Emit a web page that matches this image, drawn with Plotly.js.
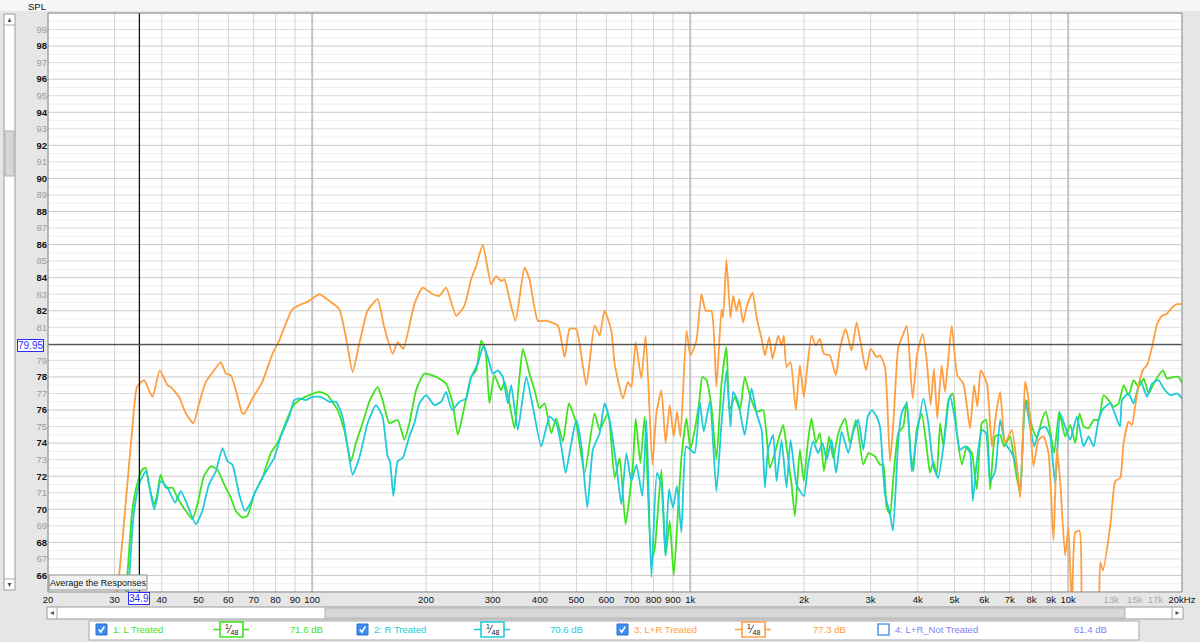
<!DOCTYPE html>
<html><head><meta charset="utf-8">
<script src="https://cdn.plot.ly/plotly-3.0.1.min.js"></script>
<style>html,body{margin:0;padding:0;background:#e6e6e6;}#chart{width:1200px;height:642px;}</style>
</head><body><div id="chart"></div>
<script>
// ---------------- DATA ----------------
const FREQ_L = [31.5,32.4,33.4,34.4,35.5,36.3,37,38.2,38.9,39.7,41,42.7,44,46.3,48.2,49.7,51.7,53.9,56.1,58.5,60.9,62.8,65.3,67.4,70.2,73.8,77.7,80.9,84.3,88.7,92.4,98.2,104.4,109.8,113,116.7,121.5,126.6,130.5,135.9,141.6,148.9,153.5,160,168.3,175.3,180.7,188.3,198,212.7,226,235.4,242.7,252.7,263.3,271.5,279.9,287.3,294.4,303.4,316.1,322.6,332.6,342.8,353.4,360.8,375.7,387.4,399.3,411.7,429,442.2,460.5,477.5,499.4,525.5,558.5,576,605.8,631,650.6,674.6,705.5,717.2,738,757.7,789.3,805.4,838.9,861,882.5,904.5,928.4,947.8,977.4,1001,1027.8,1055.1,1077,1104,1138,1173,1210,1247,1272,1312,1353,1394,1438,1498,1559,1624,1674,1726,1762,1798,1854,1892,1950,1998,2051,2094,2150,2203,2258,2331,2389,2464,2567,2645,2744,2870,2959,3082,3177,3242,3309,3377,3446,3553,3662,3740,3829,3892,3973,4097,4223,4309,4397,4489,4582,4675,4819,4951,5073,5230,5392,5559,5731,5908,6065,6216,6409,6606,6767,7021,7238,7462,7647,7776,8014,8262,8518,8729,8961,9183,9467,9813,10123,10436,10715,10980,11320,11670,12031,12403,12787,13183,13592,14012,14445,14895,15355,15833,16325,16830,17349,17823,18262,19017,19605,20010];
const SPL_L = [63,65.9,69.9,71.5,72.4,72.5,71.5,70.3,70.9,72.1,71.3,71.3,70.7,69.9,69.4,70.3,72,72.6,72.4,71.5,70.7,69.9,69.5,69.6,70.9,71.9,73.4,74,75,76.2,76.6,76.9,77.1,76.9,76.5,76,74.8,72.9,74,75.2,76.5,77.4,76.6,75.2,75.4,74.2,75.2,77.2,78.2,78,77.6,76.4,74.5,76.2,78,78.4,80.2,79.6,76.4,78.1,77.2,77.7,76.4,74.9,78,79.7,78.2,77.2,76.1,76.4,74.6,75.5,74.1,76.4,75.2,72.2,75.8,74.8,75.8,71.9,73.1,69.1,72.7,75.5,72.8,75.6,66.9,67.6,72.4,67.2,69.3,66,69.9,73.1,75.5,73.6,74.8,76.4,78,77.8,76.2,73,77.6,79.8,76,76.8,76,78,76.9,75.9,76,72.5,73.4,74.5,75.1,73.8,71.5,69.6,73.6,71.7,74.2,75.5,74,74.6,72.3,74.4,73.1,74.6,75.5,74,75.4,72.7,73.4,73.2,72.7,72.7,70.1,69.7,71.9,74.6,75,76.5,73.4,72.3,74.8,75.8,73.7,72.2,72.9,72.1,75.2,73.8,76.6,77,74.6,72.7,73.8,73.4,71.2,75.2,75.4,71.2,74.4,74.5,73.8,74.4,72.5,70.9,75.8,76.6,75,74.3,75.4,75.9,74.7,73.4,75.9,74.4,75.1,74,75.8,75,74.9,75.4,75.4,76.9,76.6,76.2,76.4,77.5,76.9,77.8,77.4,77.9,77,77.6,78.1,78.4,77.9,78,78,77.6];

const FREQ_R = [32,32.8,33.7,34.8,36.3,37.4,38.2,38.9,39.7,41.4,43.4,44.9,46.3,49.2,51.2,53.3,55.6,57.9,59.7,61.5,64.1,66.4,68.8,70.2,73.8,79.3,82.6,86.9,89.6,92.4,96.2,100.2,105.4,110.9,115.6,120.3,124,127.9,133.2,140.1,147.5,153.5,158.3,160.6,163.9,168.3,173.5,180.7,186.3,192.1,200.1,210.5,219.3,226,234.4,245.2,255.4,263.3,274.1,283.8,291.4,300.4,309.7,319.3,329.2,336.1,349.9,368.2,383.3,403.5,424.6,442.2,456,468.1,484.6,499.4,515,534.2,552.7,576,593.6,612,637.5,657.2,677.6,698.7,720.4,747.2,765.6,789.3,816.6,838.9,859.6,878.8,900.6,922.5,947.8,974.6,1000,1027.8,1060,1086,1127,1173,1210,1247,1278,1299,1338,1394,1453,1498,1545,1576,1607,1657,1692,1744,1798,1843,1911,1998,2051,2114,2180,2240,2296,2366,2432,2514,2619,2700,2784,2870,2949,3022,3113,3177,3275,3377,3439,3553,3625,3740,3854,3973,4138,4266,4397,4529,4675,4869,5019,5175,5336,5501,5592,5731,5908,6065,6216,6409,6606,6810,7093,7312,7462,7691,7933,8128,8395,8692,8961,9240,9521,9813,10123,10544,10980,11320,11670,12031,12403,12920,13706,13874,14445,14895,15513,16165,16665,17349,17888,18632,19408,20010];
const SPL_R = [63,65.9,69.7,71.5,72.3,70.9,70,70.7,71.7,71.3,70.4,71.1,70.5,69.1,69.9,71.5,72.3,73.7,72.9,72.7,70.9,69.9,70.4,70.9,71.9,73.1,74.4,75.6,76.6,76.7,76.6,76.8,76.8,76.5,76.5,75.6,73.8,72.1,73.1,75.2,76.3,75.6,73.2,72.9,70.8,72.9,73.1,74.4,75.2,76.4,76.9,76.3,76.5,77.1,76,76.5,76.7,78,78.8,79.9,79.2,78.2,78.4,78,76.4,77.5,74.8,78,76.2,73.8,75.6,75.2,73.8,72.2,74,75.4,73.9,70.1,73.6,74.6,76.4,75.4,72.7,70.3,73.4,71.7,72.7,70.8,75.4,65.9,72.2,71.5,67.2,71.2,70.1,71.4,68.6,73.8,73.6,73.4,76.5,74.7,76.5,71.1,75.2,78.4,75,77.1,76.5,74.5,77.3,75.8,74.8,71.3,73.6,74.5,71.7,74.2,71.3,74.2,71.5,70.8,72.7,74.1,73.4,74,73,74.2,72.2,74.7,73.4,74.7,75.4,73.6,75.6,76,75.6,75,70.9,69.7,68.7,74.2,75.8,76.4,72.3,74.4,76.7,75.2,72.6,71.9,73.8,76.9,75.4,73.6,73.8,73.4,70.5,72.9,74.8,74.6,71.7,72.3,75.4,74,73.4,72.5,70.9,76.6,75,73.8,74.8,75,74.4,71.5,75.8,75,74.2,75.6,73.8,74.4,73.8,75.4,76.1,76.4,75,76.6,77,76.4,77.8,76.8,77.6,77.8,77.3,76.9,77,76.7];

const FREQ_LR = [29,30.8,33.4,34.4,35.9,37.8,39.5,41.4,42.2,44.4,46.3,48.5,50.2,52.3,55,57.3,59.1,60.9,62.8,65.3,66.2,69.5,73.8,78.5,81.8,88.7,98.2,104.4,110.9,117.9,122.8,127.9,133.2,140.1,148.9,155.1,163.2,168.3,174.2,186.3,196,208.3,217,226,240.3,252.7,263.3,271.5,282.7,297.4,306.6,316.1,322.6,332.6,345,364.5,375.7,395.3,415.9,446.6,465.2,479.6,499.4,530.9,558.5,576,593.6,618.4,631,663.7,684.2,698.7,717.2,742.4,762.2,794.1,813.7,838.9,861,882.5,904.5,922.5,942.3,977.4,1001,1038.5,1070.7,1099,1138,1173,1210,1222,1247,1278,1299,1326,1348,1380,1409,1462,1498,1545,1576,1618,1651,1709,1744,1769,1798,1843,1903,1950,1998,2038,2094,2150,2203,2258,2341,2428,2489,2577,2673,2755,2823,2917,3002,3113,3177,3275,3377,3446,3553,3649,3740,3876,3987,4121,4223,4325,4413,4503,4626,4720,4918,5088,5279,5501,5637,5751,5871,6094,6282,6445,6606,6810,7093,7312,7462,7614,7691,7848,8091,8342,8601,8869,9143,9331,9521,9813,10012,10229,10436,10715,10872,11400,12031,12156,12357,12920,13320,13731,14012,14445,14748,15050,15452,15833,16165,16665,17179,17711,18182,18826,19408,20010];
const SPL_LR = [62,65.9,74.8,77.4,77.8,76.8,78.4,77.5,77.4,76.8,75.8,75.2,76.4,77.7,78.4,78.9,78.2,78.1,77.2,75.8,75.8,76.7,77.7,79.4,80.2,82.1,82.6,83,82.6,82.1,80.4,78.3,80,82,82.7,81,79.4,80.1,79.7,82.4,83.4,83,82.9,83.4,81.7,82.3,83.9,84.7,86,83.6,84.1,83.8,83.9,82.7,81.4,84.6,83.9,81.4,81.4,81.1,79.2,80.9,80.9,77.5,81.1,80.5,82,80.8,78.8,76.7,77.7,77.4,80.1,77.9,80.5,72.7,75.8,77.2,74,76.3,74.4,75.9,74.4,80.8,79.3,80.2,83,82,82,77.4,82.1,81.6,85.1,81.6,82.9,82,82.7,81.3,82.2,83.1,81.6,80.3,79.3,80.4,79.1,80.5,79.9,80.5,78.6,78.9,76,78.7,76.8,78.5,80.5,79.9,80.3,79.4,79.3,78.1,79.7,80.9,79.6,81.3,80.1,78.4,79.7,79.2,79.3,78.6,72.9,75.2,79.8,80.5,81.1,76.7,79.4,80.6,79,76.3,78.5,75.5,78.7,77.1,81.1,78.1,77.6,74.9,77.5,76.2,78.4,77.6,73.8,75.8,77.1,74,74.8,72.7,70.7,75.4,77.7,76.7,72.6,74.2,74.4,73.4,68.1,73.7,71.7,67.2,68.9,64,68.6,68.7,63,58,63,66.8,66.3,69,71.7,71.9,74,75.3,75.1,76.3,77.8,78.5,78.7,79.8,81.2,81.7,81.8,82.2,82.4,82.4];

const SERIES_NAMES = ['1: L Treated','2: R Treated','3: L+R Treated','4: L+R_Not Treated'];
const SERIES_LEVELS = ['71.6 dB','70.6 dB','77.3 dB','61.4 dB'];
const X_TICK_VALS = [20,30,40,50,60,70,80,90,100,200,300,400,500,600,700,800,900,1000,2000,3000,4000,5000,6000,7000,8000,9000,10000,13000,15000,17000,20000];
const X_TICK_TEXT = ['20','30','40','50','60','70','80','90','100','200','300','400','500','600','700','800','900','1k','2k','3k','4k','5k','6k','7k','8k','9k','10k','13k','15k','17k','20kHz'];
const X_TICK_GREY = ['13k','15k','17k'];
const Y_TICK_VALS = [66,67,68,69,70,71,72,73,74,75,76,77,78,79,81,82,83,84,85,86,87,88,89,90,91,92,93,94,95,96,97,98,99];
const CURSOR_FREQ = 34.9;
const CURSOR_SPL = 79.95;

// ---------------- LAYOUT HELPERS ----------------
const L = 48, R = 1182, T = 13, B = 592;
const px = x => (x - L) / (R - L);
const py = y => (B - y) / (B - T);
const FMIN = 20, FMAX = 20000;
const fx = f => (Math.log10(f) - Math.log10(FMIN)) / (Math.log10(FMAX) - Math.log10(FMIN));
const pathPx = pts => 'M ' + pts.map(p => px(p[0]) + ',' + py(p[1])).join(' L ') + ' Z';
const linePx = pts => 'M ' + pts.map(p => px(p[0]) + ',' + py(p[1])).join(' L ');

const GREEN = '#3fe31c', CYAN = '#1fcbd9', ORANGE = '#ff9e3e', PURPLE = '#7f7ff5';
const FONT = 'Liberation Sans, Arial, sans-serif';

const shapes = [];
const annotations = [];

// horizontal grid (0.5 dB steps)
for (let v = 65; v <= 100.001; v += 0.5) {
  const isInt = Math.abs(v - Math.round(v)) < 1e-6;
  let col = '#efefef';
  if (isInt) col = (Math.round(v) % 2 === 0) ? '#c9c9c9' : '#dcdcdc';
  shapes.push({type:'line', xref:'paper', yref:'y', x0:0, x1:1, y0:v, y1:v, layer:'below',
    line:{color:col, width:1}});
}
// vertical grid
for (let dec = 10; dec <= 10000; dec *= 10) {
  for (let m = 1; m <= 9; m++) {
    const f = m * dec;
    if (f < FMIN || f > FMAX) continue;
    let col = '#d4d4d4', w = 1;
    if (m === 1 && dec >= 100) { col = '#c4c4c4'; w = 2; }
    else if (f > 10000) col = '#e6e6e6';
    shapes.push({type:'line', xref:'paper', yref:'paper', x0:fx(f), x1:fx(f), y0:0, y1:1, layer:'below',
      line:{color:col, width:w}});
  }
}
// cursor
shapes.push({type:'line', xref:'paper', yref:'paper', x0:fx(CURSOR_FREQ), x1:fx(CURSOR_FREQ), y0:0, y1:1,
  line:{color:'#111', width:1.3}});
shapes.push({type:'line', xref:'paper', yref:'y', x0:0, x1:1, y0:CURSOR_SPL, y1:CURSOR_SPL,
  line:{color:'#555', width:1.3}});
// plot border
shapes.push({type:'rect', xref:'paper', yref:'paper', x0:0, x1:1, y0:0, y1:1, line:{color:'#8a8a8a', width:1}});
// top strip
shapes.push({type:'rect', xref:'paper', yref:'paper', x0:px(0), x1:px(1200), y0:py(11), y1:py(0), layer:'below',
  fillcolor:'#f6f6f6', line:{width:0}});
// button
shapes.push({type:'rect', xref:'paper', yref:'paper', x0:px(49), x1:px(147), y0:py(590), y1:py(575),
  fillcolor:'#f1f1f1', line:{color:'#8d8d8d', width:1}});
annotations.push({xref:'paper', yref:'paper', x:px(98), y:py(582.5), text:'Average the Responses', showarrow:false,
  xanchor:'center', yanchor:'middle', font:{family:FONT, size:9, color:'#111'}});
// left scrollbar
shapes.push({type:'rect', xref:'paper', yref:'paper', x0:px(4), x1:px(15), y0:py(590), y1:py(14), layer:'below',
  fillcolor:'#ffffff', line:{color:'#9a9a9a', width:1}});
shapes.push({type:'rect', xref:'paper', yref:'paper', x0:px(5), x1:px(14), y0:py(176), y1:py(131), layer:'below',
  fillcolor:'#d6d6d6', line:{color:'#b0b0b0', width:1}});
shapes.push({type:'line', xref:'paper', yref:'paper', x0:px(4), x1:px(15), y0:py(25), y1:py(25), layer:'below', line:{color:'#aaa', width:1}});
shapes.push({type:'line', xref:'paper', yref:'paper', x0:px(4), x1:px(15), y0:py(579), y1:py(579), layer:'below', line:{color:'#aaa', width:1}});
shapes.push({type:'path', xref:'paper', yref:'paper', path:pathPx([[7.5,22],[11.5,22],[9.5,18]]), fillcolor:'#555', line:{width:0}});
shapes.push({type:'path', xref:'paper', yref:'paper', path:pathPx([[7.5,583],[11.5,583],[9.5,587]]), fillcolor:'#555', line:{width:0}});
// bottom scrollbar
shapes.push({type:'rect', xref:'paper', yref:'paper', x0:px(47), x1:px(1183), y0:py(619), y1:py(607), layer:'below',
  fillcolor:'#ffffff', line:{color:'#9a9a9a', width:1}});
shapes.push({type:'rect', xref:'paper', yref:'paper', x0:px(325), x1:px(1125), y0:py(618), y1:py(608), layer:'below',
  fillcolor:'#d8d8d8', line:{color:'#b3b3b3', width:1}});
shapes.push({type:'line', xref:'paper', yref:'paper', x0:px(57), x1:px(57), y0:py(619), y1:py(607), layer:'below', line:{color:'#aaa', width:1}});
shapes.push({type:'line', xref:'paper', yref:'paper', x0:px(1172), x1:px(1172), y0:py(619), y1:py(607), layer:'below', line:{color:'#aaa', width:1}});
shapes.push({type:'path', xref:'paper', yref:'paper', path:pathPx([[54,611],[54,615],[50,613]]), fillcolor:'#555', line:{width:0}});
shapes.push({type:'path', xref:'paper', yref:'paper', path:pathPx([[1175.5,611],[1175.5,615],[1179.5,613]]), fillcolor:'#555', line:{width:0}});
// legend panel
shapes.push({type:'rect', xref:'paper', yref:'paper', x0:px(89), x1:px(1139), y0:py(640), y1:py(621), layer:'below',
  fillcolor:'#ffffff', line:{color:'#a8a8a8', width:1}});

const LEG_COLORS = [GREEN, CYAN, ORANGE, PURPLE];
const LEG_CHECK_X = [96, 357, 617, 878];
const LEG_SAMPLE_X = [213, 474, 735, null];
const LEG_LEVEL_X = [288, 548, 811, 1072];
const LEG_Y = 629.5;
for (let i = 0; i < 4; i++) {
  const cx = LEG_CHECK_X[i];
  if (i < 3) {
    shapes.push({type:'rect', xref:'paper', yref:'paper', x0:px(cx), x1:px(cx+11), y0:py(LEG_Y+5.5), y1:py(LEG_Y-5.5),
      fillcolor:'#3d8cf2', line:{color:'#2c6fd0', width:1}});
    shapes.push({type:'path', xref:'paper', yref:'paper',
      path:linePx([[cx+2.8, LEG_Y], [cx+4.8, LEG_Y+2.6], [cx+8.4, LEG_Y-3]]),
      line:{color:'#ffffff', width:1.6}});
  } else {
    shapes.push({type:'rect', xref:'paper', yref:'paper', x0:px(cx), x1:px(cx+11), y0:py(LEG_Y+5.5), y1:py(LEG_Y-5.5),
      fillcolor:'#ffffff', line:{color:'#5b9cf0', width:1.6}});
  }
  annotations.push({xref:'paper', yref:'paper', x:px(cx+15), y:py(LEG_Y), text:SERIES_NAMES[i], showarrow:false,
    xanchor:'left', yanchor:'middle', font:{family:FONT, size:9.5, color:LEG_COLORS[i]}});
  annotations.push({xref:'paper', yref:'paper', x:px(LEG_LEVEL_X[i]), y:py(LEG_Y), text:SERIES_LEVELS[i], showarrow:false,
    xanchor:'left', yanchor:'middle', font:{family:FONT, size:9.5, color:LEG_COLORS[i]}});
  const sx = LEG_SAMPLE_X[i];
  if (sx !== null) {
    shapes.push({type:'line', xref:'paper', yref:'paper', x0:px(sx), x1:px(sx+36), y0:py(LEG_Y), y1:py(LEG_Y),
      line:{color:LEG_COLORS[i], width:1.6}});
    shapes.push({type:'rect', xref:'paper', yref:'paper', x0:px(sx+7), x1:px(sx+30), y0:py(LEG_Y+7.5), y1:py(LEG_Y-7.5),
      fillcolor:'#ffffff', line:{color:LEG_COLORS[i], width:1.6}});
    annotations.push({xref:'paper', yref:'paper', x:px(sx+18.5), y:py(LEG_Y), text:'<sup>1</sup>⁄<sub>48</sub>', showarrow:false,
      xanchor:'center', yanchor:'middle', font:{family:FONT, size:10, color:'#111'}});
  }
}
// SPL label and cursor readouts
annotations.push({xref:'paper', yref:'paper', x:px(37), y:py(7), text:'SPL', showarrow:false,
  xanchor:'center', yanchor:'middle', font:{family:FONT, size:9.5, color:'#111'}});
annotations.push({xref:'paper', yref:'paper', x:px(44), y:py(345), text:String(CURSOR_SPL), showarrow:false,
  xanchor:'right', yanchor:'middle', bgcolor:'#ffffff', bordercolor:'#2a2aff', borderwidth:1, borderpad:0,
  font:{family:FONT, size:10, color:'#2a2aff'}});
annotations.push({xref:'paper', yref:'paper', x:fx(CURSOR_FREQ), y:py(599), text:String(CURSOR_FREQ), showarrow:false,
  xanchor:'center', yanchor:'middle', bgcolor:'#ffffff', bordercolor:'#2a2aff', borderwidth:1, borderpad:0,
  font:{family:FONT, size:10, color:'#2a2aff'}});

const xTickText = X_TICK_TEXT.map(t => X_TICK_GREY.includes(t) ? '<span style="color:#a8a8a8">' + t + '</span>' : t);
const yTickText = Y_TICK_VALS.map(v => v % 2 === 0 ? '<b>' + v + '</b>' : '<span style="color:#9c9c9c">' + v + '</span>');

const mk = (x, y, color, name) => ({
  x: x, y: y, type:'scatter', mode:'lines', name: name, hoverinfo:'skip',
  line:{color: color, width:1.8, shape:'spline', smoothing:0.5}
});
const data = [
  mk(FREQ_L, SPL_L, GREEN, SERIES_NAMES[0]),
  mk(FREQ_R, SPL_R, CYAN, SERIES_NAMES[1]),
  mk(FREQ_LR, SPL_LR, ORANGE, SERIES_NAMES[2])
];

const layout = {
  width:1200, height:642,
  margin:{l:L, r:1200-R, t:T, b:642-B, autoexpand:false},
  paper_bgcolor:'#e6e6e6', plot_bgcolor:'#ffffff',
  showlegend:false,
  xaxis:{type:'log', range:[Math.log10(FMIN), Math.log10(FMAX)], showgrid:false, zeroline:false, showline:false,
    tickmode:'array', tickvals:X_TICK_VALS, ticktext:xTickText, ticks:'', tickangle:0,
    tickfont:{family:FONT, size:9.5, color:'#111'}, fixedrange:true},
  yaxis:{range:[65,100], showgrid:false, zeroline:false, showline:false,
    tickmode:'array', tickvals:Y_TICK_VALS, ticktext:yTickText, ticks:'',
    tickfont:{family:FONT, size:9.5, color:'#111'}, fixedrange:true},
  shapes: shapes,
  annotations: annotations
};
Plotly.newPlot('chart', data, layout, {displayModeBar:false, staticPlot:true});
</script></body></html>
